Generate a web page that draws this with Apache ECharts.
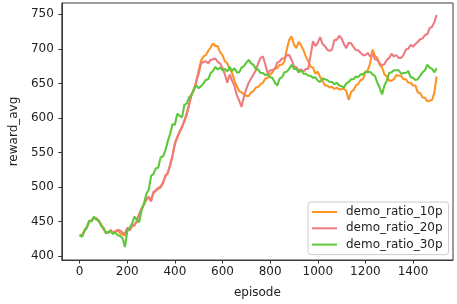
<!DOCTYPE html>
<html>
<head>
<meta charset="utf-8">
<script src="https://cdn.jsdelivr.net/npm/echarts@6/dist/echarts.min.js"></script>
<style>
html,body{margin:0;padding:0;background:#fff;}
#c{width:457px;height:304px;}
</style>
</head>
<body>
<div id="c"></div>
<script>
const episodes = [
0,10,20,30,40,50,60,70,80,90,
100,110,120,130,140,150,160,170,180,190,
200,210,220,230,240,250,260,270,280,290,
300,310,320,330,340,350,360,370,380,390,
400,410,420,430,440,450,460,470,480,490,
500,510,520,530,540,550,560,570,580,590,
600,610,620,630,640,650,660,670,680,690,
700,710,720,730,740,750,760,770,780,790,
800,810,820,830,840,850,860,870,880,890,
900,910,920,930,940,950,960,970,980,990,
1000,1010,1020,1030,1040,1050,1060,1070,1080,1090,
1100,1110,1120,1130,1140,1150,1160,1170,1180,1190,
1200,1210,1220,1230,1240,1250,1260,1270,1280,1290,
1300,1310,1320,1330,1340,1350,1360,1370,1380,1390,
1400,1410,1420,1430,1440,1450,1460,1470,1480,1490,
1499];

const seriesNames = ['demo_ratio_10p', 'demo_ratio_20p', 'demo_ratio_30p'];

const ratio10p = [
430,430,437,441,451,452,455,455,450,446,
439,435,433,438,433,435,437,433,431,430,
439,438,443,446,449,460,468,476,481,486,
481,491,496,497,501,505,517,519,533,544,
564,571,581,586,597,605,621,633,642,652,
669,683,689,691,697,702,708,704,704,695,
691,682,679,671,665,654,646,639,637,634,
632,632,637,639,644,645,649,651,657,658,
663,666,672,672,677,677,682,699,713,718,
706,701,710,705,698,689,682,674,673,664,
667,659,654,647,647,644,645,642,644,641,
642,642,639,626,638,640,647,649,655,656,
666,669,679,699,690,687,677,673,663,660,
654,654,656,662,661,661,656,656,651,651,
647,647,637,636,630,629,624,625,626,637,
660];

const ratio20p = [
431,429,436,442,450,451,456,454,451,445,
440,434,434,437,434,436,438,437,434,432,
441,437,445,444,451,461,469,474,483,485,
479,493,494,499,499,507,515,521,531,546,
562,573,579,588,595,607,619,635,640,654,
664,679,681,682,679,684,685,686,681,679,
672,663,651,663,654,647,633,625,616,631,
642,651,657,663,669,679,687,689,677,664,
669,669,671,680,682,686,686,691,691,684,
675,673,669,670,667,671,671,691,711,704,
709,717,707,704,699,697,699,713,713,719,
715,707,701,709,708,703,698,698,694,691,
691,694,689,692,685,684,679,676,678,684,
687,693,689,691,687,687,691,699,700,706,
703,707,710,714,715,720,721,730,732,739,
749];

const ratio30p = [
430,428,437,441,451,450,457,453,452,444,
441,433,435,436,432,434,430,429,426,413,
436,441,447,457,453,449,466,476,490,496,
516,519,527,528,543,544,553,566,577,591,
590,606,603,601,619,621,630,633,642,647,
643,646,650,655,656,665,668,674,670,673,
669,671,667,674,668,672,666,666,673,675,
680,684,679,677,671,670,665,665,662,663,
659,658,651,647,657,659,666,667,671,677,
671,671,666,669,664,664,661,661,658,659,
654,652,657,656,655,652,652,649,651,647,
646,644,650,652,656,656,660,659,663,663,
667,666,667,663,661,651,644,634,647,654,
665,666,669,669,669,664,665,665,668,659,
658,655,656,661,666,669,677,673,671,666,
672];

const xTicks = [0, 200, 400, 600, 800, 1000, 1200, 1400];
const yTicks = [400, 450, 500, 550, 600, 650, 700, 750];

const colors = ['#ff9426', '#ec7b82', '#5ec83c'];
const allValues = [ratio10p, ratio20p, ratio30p];

const FONT = 'DejaVu Sans';
const chart = echarts.init(document.getElementById('c'), null, {renderer: 'canvas'});

chart.setOption({
  animation: false,
  backgroundColor: '#ffffff',
  color: colors,
  textStyle: {fontFamily: FONT},
  grid: {
    left: 50, top: 3, right: 4, bottom: 38.3,
    show: true, borderColor: '#3a3a3a', borderWidth: 1, backgroundColor: 'transparent'
  },
  legend: {
    orient: 'vertical',
    left: 308, top: 202,
    icon: 'rect',
    itemWidth: 25, itemHeight: 2,
    itemGap: 4.3,
    padding: [4, 6, 4, 4],
    backgroundColor: '#ffffff',
    borderColor: '#cccccc',
    borderWidth: 1,
    borderRadius: 3,
    textStyle: {fontFamily: FONT, fontSize: 12, color: '#222', padding: [0, 0, 0, 4]},
    data: seriesNames
  },
  xAxis: {
    type: 'value',
    min: -75, max: 1568,
    name: 'episode',
    nameLocation: 'middle',
    nameGap: 27,
    nameTextStyle: {fontFamily: FONT, fontSize: 12, color: '#222'},
    axisLine: {show: true, onZero: false, lineStyle: {color: '#3a3a3a', width: 1}},
    axisTick: {show: true, length: 3.5, lineStyle: {color: '#333'}, customValues: xTicks},
    axisLabel: {fontFamily: FONT, fontSize: 12, color: '#222', margin: 6, customValues: xTicks,
      formatter: v => String(v)},
    splitLine: {show: false}
  },
  yAxis: {
    type: 'value',
    min: 394.3, max: 766.4,
    name: 'reward_avg',
    nameLocation: 'middle',
    nameGap: 40,
    nameTextStyle: {fontFamily: FONT, fontSize: 12, color: '#222'},
    axisLine: {show: true, onZero: false, lineStyle: {color: '#3a3a3a', width: 1}},
    axisTick: {show: true, length: 3.5, lineStyle: {color: '#333'}, customValues: yTicks},
    axisLabel: {fontFamily: FONT, fontSize: 12, color: '#222', margin: 8, customValues: yTicks,
      formatter: v => String(v)},
    splitLine: {show: false}
  },
  series: seriesNames.map((name, i) => ({
    name: name,
    type: 'line',
    symbol: 'none',
    lineStyle: {width: 2.1, color: colors[i]},
    itemStyle: {color: colors[i]},
    data: episodes.map((e, k) => [e, allValues[i][k]])
  }))
});
</script>
</body>
</html>
